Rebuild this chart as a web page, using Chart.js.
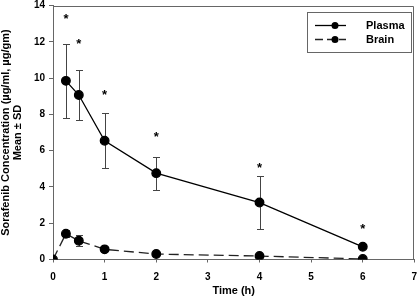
<!DOCTYPE html>
<html>
<head>
<meta charset="utf-8">
<script src="https://cdn.jsdelivr.net/npm/chart.js@4/dist/chart.umd.min.js"></script>
<style>
  html, body { margin: 0; padding: 0; background: #fff; }
  #wrap { width: 420px; height: 302px; }
</style>
</head>
<body>
<div id="wrap"><canvas id="myChart" width="420" height="302"></canvas></div>
<script>
// data
var plasmaTime = [0.25, 0.5, 1, 2, 4, 6];
var plasmaMean = [9.85, 9.07, 6.55, 4.76, 3.14, 0.70];
var plasmaSD   = [2.05, 1.37, 1.52, 0.91, 1.47, 0.08];
var brainTime  = [0, 0.25, 0.5, 1, 2, 4, 6];
var brainMean  = [0, 1.42, 1.03, 0.56, 0.30, 0.19, 0.03];
var brainSD    = [0, 0.19, 0.30, 0.05, 0.10, 0.03, 0.02];
var starTime   = [0.25, 0.5, 1, 2, 4, 6];
var starY      = [13.4, 12.05, 9.2, 6.9, 5.2, 1.8];
var xTicks = [0, 1, 2, 3, 4, 5, 6, 7];
var yTicks = [0, 2, 4, 6, 8, 10, 12, 14];

function pts(xs, ys) {
  return xs.map(function(x, i) { return { x: x, y: ys[i] }; });
}

var FONT = "'Liberation Sans', Arial, sans-serif";

// error bars go under the markers
var errBars = {
  id: 'errBars',
  beforeDatasetsDraw: function(chart) {
    var ctx = chart.ctx, x = chart.scales.x, y = chart.scales.y;
    ctx.save();
    ctx.strokeStyle = '#444';
    ctx.lineWidth = 1;
    function bars(ts, ms, sds) {
      ts.forEach(function(t, i) {
        if (!sds[i]) return;
        var px = Math.round(x.getPixelForValue(t)) + 0.5;
        var hi = Math.round(y.getPixelForValue(ms[i] + sds[i])) + 0.5;
        var lo = Math.round(y.getPixelForValue(ms[i] - sds[i])) + 0.5;
        ctx.beginPath();
        ctx.moveTo(px, hi); ctx.lineTo(px, lo);
        ctx.moveTo(px - 3.5, hi); ctx.lineTo(px + 3.5, hi);
        ctx.moveTo(px - 3.5, lo); ctx.lineTo(px + 3.5, lo);
        ctx.stroke();
      });
    }
    bars(plasmaTime, plasmaMean, plasmaSD);
    bars(brainTime, brainMean, brainSD);
    ctx.restore();
  }
};

// stars, frame and legend box
var extras = {
  id: 'extras',
  afterDatasetsDraw: function(chart) {
    var ctx = chart.ctx, x = chart.scales.x, y = chart.scales.y, a = chart.chartArea;
    ctx.save();
    ctx.strokeStyle = '#666';
    ctx.lineWidth = 1;
    ctx.beginPath();
    ctx.moveTo(a.left, Math.round(a.top) + 0.5);
    ctx.lineTo(Math.round(a.right) - 0.5, Math.round(a.top) + 0.5);
    ctx.lineTo(Math.round(a.right) - 0.5, a.bottom);
    ctx.stroke();

    ctx.fillStyle = '#000';
    ctx.font = 'bold 13px ' + FONT;
    ctx.textAlign = 'center';
    ctx.textBaseline = 'middle';
    starTime.forEach(function(t, i) {
      ctx.fillText('*', x.getPixelForValue(t), y.getPixelForValue(starY[i]) + 3);
    });

    // legend
    var lx = 307, ly = 12, lw = 104, lh = 40;
    ctx.fillStyle = '#fff';
    ctx.fillRect(lx, ly, lw, lh);
    ctx.strokeStyle = '#666';
    ctx.strokeRect(lx + 0.5, ly + 0.5, lw, lh);
    ctx.strokeStyle = '#000';
    ctx.lineWidth = 1.3;
    ctx.beginPath();
    ctx.moveTo(315, 25.5); ctx.lineTo(346, 25.5);
    ctx.stroke();
    ctx.setLineDash([8, 4]);
    ctx.strokeStyle = '#222';
    ctx.beginPath();
    ctx.moveTo(315, 39.5); ctx.lineTo(346, 39.5);
    ctx.stroke();
    ctx.setLineDash([]);
    ctx.fillStyle = '#000';
    ctx.beginPath(); ctx.arc(335, 25.5, 3.5, 0, Math.PI * 2); ctx.fill();
    ctx.beginPath(); ctx.arc(335, 39.5, 3.5, 0, Math.PI * 2); ctx.fill();
    ctx.font = 'bold 11px ' + FONT;
    ctx.textAlign = 'left';
    ctx.fillText('Plasma', 366, 26);
    ctx.fillText('Brain', 366, 40);
    ctx.restore();
  }
};

var ctx = document.getElementById('myChart').getContext('2d');

var myChart = new Chart(ctx, {
  type: 'line',
  data: {
    datasets: [{
      label: 'Plasma',
      data: pts(plasmaTime, plasmaMean),
      borderColor: '#000',
      backgroundColor: '#000',
      borderWidth: 1.3,
      pointRadius: 4.3,
      pointHoverRadius: 4.3,
      tension: 0
    }, {
      label: 'Brain',
      data: pts(brainTime, brainMean),
      borderColor: '#222',
      backgroundColor: '#000',
      pointBorderColor: '#000',
      borderWidth: 1.3,
      borderDash: [10, 5],
      pointRadius: 4.3,
      pointHoverRadius: 4.3,
      tension: 0
    }]
  },
  options: {
    responsive: false,
    animation: false,
    layout: { padding: { top: 4.5, right: 2, left: 0, bottom: 0 } },
    plugins: { legend: { display: false }, tooltip: { enabled: false } },
    scales: {
      x: {
        type: 'linear',
        min: 0, max: 7,
        afterBuildTicks: function(s) { s.ticks = xTicks.map(function(v) { return { value: v }; }); },
        afterFit: function(s) { s.height = 42.5; s.paddingRight = 0; },
        grid: { drawOnChartArea: false, tickLength: 3, color: '#666' },
        border: { color: '#666' },
        ticks: { color: '#000', font: { family: FONT, size: 10, weight: 'bold' }, padding: 9, maxRotation: 0 },
        title: { display: true, text: 'Time (h)', color: '#000', font: { family: FONT, size: 11, weight: 'bold' }, padding: { top: 9 } }
      },
      y: {
        min: 0, max: 14,
        afterBuildTicks: function(s) { s.ticks = yTicks.map(function(v) { return { value: v }; }); },
        afterFit: function(s) { s.width = 53; s.paddingTop = 0; s.paddingBottom = 0; },
        grid: { drawOnChartArea: false, tickLength: 4, color: '#666' },
        border: { color: '#666' },
        ticks: { color: '#000', font: { family: FONT, size: 10, weight: 'bold' }, padding: 4 },
        title: {
          display: true,
          text: ['Sorafenib Concentration (\u00b5g/ml, \u00b5g/gm)', 'Mean \u00b1 SD'],
          color: '#000',
          font: { family: FONT, size: 11, weight: 'bold', lineHeight: 1.1 },
          padding: { top: 0, bottom: 0 }
        }
      }
    }
  },
  plugins: [errBars, extras]
});
</script>
</body>
</html>
